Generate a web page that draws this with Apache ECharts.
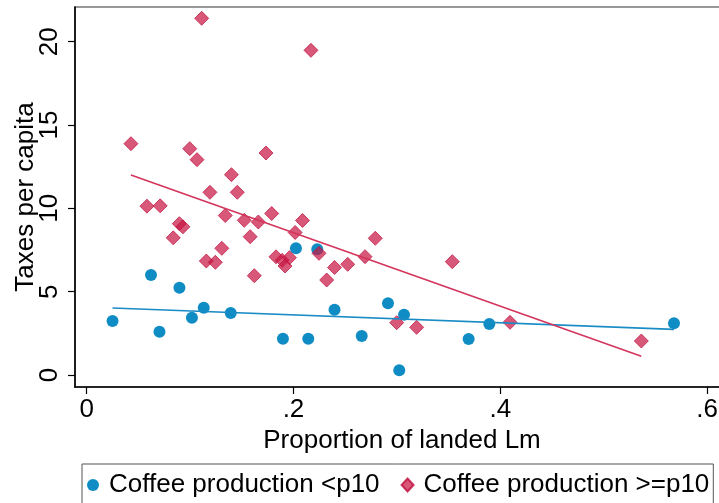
<!DOCTYPE html>
<html>
<head>
<meta charset="utf-8">
<script src="https://cdn.jsdelivr.net/npm/echarts@6/dist/echarts.min.js"></script>
<style>
  html, body { margin: 0; padding: 0; background: #fff; }
  #chart { width: 719px; height: 503px; }
</style>
</head>
<body>
<div id="chart"></div>
<script>
// Proportion of landed Lm (x) vs taxes per capita (y), split by coffee production
const lowCoffee = [
  [0.0250, 3.24], [0.0622, 6.00], [0.0704, 2.60], [0.0897, 5.24], [0.1018, 3.44],
  [0.1132, 4.04], [0.1393, 3.72], [0.1898, 2.18], [0.2143, 2.18], [0.2024, 7.60],
  [0.2230, 7.54], [0.2397, 3.92], [0.2660, 2.34], [0.2914, 4.30], [0.3069, 3.62],
  [0.3023, 0.28], [0.3694, 2.16], [0.3894, 3.06], [0.5680, 3.10]
];
const highCoffee = [
  [0.1112, 21.40], [0.2169, 19.48], [0.0428, 13.88], [0.0997, 13.58], [0.1067, 12.92],
  [0.1734, 13.32], [0.1400, 12.02], [0.1192, 10.96], [0.1456, 10.96], [0.0583, 10.13],
  [0.0711, 10.15], [0.1340, 9.57], [0.1524, 9.28], [0.1660, 9.18], [0.1789, 9.69],
  [0.2087, 9.27], [0.2016, 8.55], [0.0896, 9.08], [0.0931, 8.89], [0.0837, 8.23],
  [0.1581, 8.30], [0.1307, 7.60], [0.1157, 6.84], [0.1244, 6.76], [0.1831, 7.09],
  [0.1891, 6.88], [0.1961, 7.04], [0.1918, 6.54], [0.1621, 5.96], [0.2247, 7.30],
  [0.2397, 6.45], [0.2524, 6.64], [0.2692, 7.10], [0.2321, 5.70], [0.2791, 8.20],
  [0.3536, 6.80], [0.2998, 3.14], [0.3191, 2.86], [0.4094, 3.16], [0.5364, 2.04]
];
// Linear fit endpoints for each group
const lowFit = [[0.0250, 4.02], [0.5680, 2.74]];
const highFit = [[0.0428, 12.00], [0.5364, 1.12]];

const seriesNames = ['Coffee production <p10', 'Coffee production >=p10'];
const xTicks = [0, 0.2, 0.4, 0.6];
const xTickLabels = ['0', '.2', '.4', '.6'];
const yTicks = [0, 5, 10, 15, 20];
const yTickLabels = ['0', '5', '10', '15', '20'];

const FONT = '"Liberation Sans", Arial, Helvetica, sans-serif';
const BLUE = '#0888c2';

function labelFor(ticks, labels) {
  return v => {
    const i = ticks.findIndex(t => Math.abs(t - v) < 1e-9);
    return i >= 0 ? labels[i] : '';
  };
}

const chart = echarts.init(document.getElementById('chart'), null, { renderer: 'canvas' });
chart.setOption({
  animation: false,
  backgroundColor: '#fff',
  textStyle: { fontFamily: FONT },
  grid: {
    left: 75, right: -10, top: 7, bottom: 116,
    show: true, borderColor: '#777', borderWidth: 1.5,
    outerBoundsMode: 'none', containLabel: false
  },
  xAxis: {
    type: 'value',
    min: -0.0113, max: 0.6212,
    name: 'Proportion of landed Lm',
    nameLocation: 'middle',
    nameGap: 41,
    nameMoveOverlap: false,
    nameTextStyle: { fontSize: 26, color: '#000', fontFamily: FONT },
    splitLine: { show: false },
    axisLine: { show: true, onZero: false, lineStyle: { color: '#000', width: 1.6 } },
    axisTick: { show: true, length: 7, customValues: xTicks, lineStyle: { color: '#000', width: 1.2 } },
    axisLabel: { customValues: xTicks, formatter: labelFor(xTicks, xTickLabels), fontSize: 26, color: '#000', margin: 10, fontFamily: FONT }
  },
  yAxis: {
    type: 'value',
    min: -0.72, max: 22.08,
    name: 'Taxes per capita',
    nameLocation: 'middle',
    nameGap: 36,
    nameMoveOverlap: false,
    nameTextStyle: { fontSize: 26, color: '#000', fontFamily: FONT },
    splitLine: { show: false },
    axisLine: { show: true, onZero: false, lineStyle: { color: '#000', width: 1.6 } },
    axisTick: { show: true, length: 7, customValues: yTicks, lineStyle: { color: '#000', width: 1.2 } },
    axisLabel: { customValues: yTicks, formatter: labelFor(yTicks, yTickLabels), rotate: 90, fontSize: 26, color: '#000', margin: 12, fontFamily: FONT }
  },
  legend: {
    data: [
      { name: seriesNames[0], icon: 'circle' },
      { name: seriesNames[1], icon: 'diamond' }
    ],
    left: 82, top: 464,
    orient: 'horizontal',
    itemWidth: 12, itemHeight: 13,
    itemGap: 21,
    padding: [8, 4, 12, 5],
    borderColor: '#555', borderWidth: 1,
    textStyle: { fontSize: 26, color: '#000', fontFamily: FONT, padding: [0, 0, 0, 5] }
  },
  series: [
    {
      name: seriesNames[0], type: 'scatter', data: lowCoffee,
      symbol: 'circle', symbolSize: 12,
      itemStyle: { color: BLUE, opacity: 0.97 }, z: 2
    },
    {
      name: seriesNames[1], type: 'scatter', data: highCoffee,
      symbol: 'diamond', symbolSize: 14,
      itemStyle: { color: 'rgba(200,24,68,0.9)', borderColor: '#bf0f3d', borderWidth: 0.9 }, z: 3
    },
    {
      name: 'fitLow', type: 'line', data: lowFit, showSymbol: false, symbol: 'none',
      lineStyle: { color: '#1a8cc5', width: 1.6 }, z: 4, silent: true
    },
    {
      name: 'fitHigh', type: 'line', data: highFit, showSymbol: false, symbol: 'none',
      lineStyle: { color: '#d4345c', width: 1.6 }, z: 5, silent: true
    }
  ]
});
</script>
</body>
</html>
